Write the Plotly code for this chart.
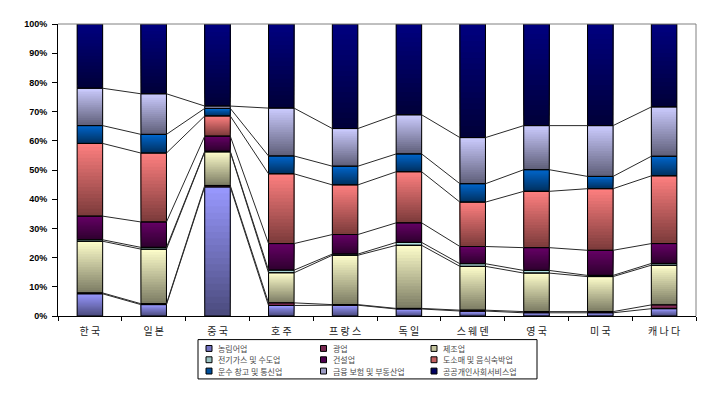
import plotly.graph_objects as go

# ---------------- data ----------------
countries = ["한 국", "일 본", "중 국", "호 주", "프 랑 스", "독 일", "스 웨 덴", "영 국", "미 국", "캐 나 다"]
sectors = ["농림어업", "광업", "제조업", "전기가스 및 수도업", "건설업",
           "도소매 및 음식숙박업", "운수 창고 및 통신업", "금융 보험 및 부동산업", "공공개인사회서비스업"]

agri          = [7.6, 3.9, 44.2, 3.6, 3.7, 2.4, 1.7, 1.1, 1.1, 2.5]
mining        = [0.3, 0.3, 0.5, 0.9, 0.2, 0.2, 0.3, 0.4, 0.4, 1.3]
manufacturing = [17.7, 18.7, 11.5, 10.3, 16.9, 21.6, 15.0, 13.2, 12.0, 13.6]
utilities     = [0.5, 0.6, 0.2, 0.9, 0.4, 1.0, 0.9, 0.9, 0.4, 0.6]
construction  = [8.1, 8.7, 5.2, 9.1, 6.7, 6.7, 5.9, 7.8, 8.6, 6.8]
trade_hotel   = [24.9, 23.6, 6.9, 23.9, 17.0, 17.5, 15.2, 19.3, 21.1, 23.2]
transport     = [6.1, 6.4, 2.6, 6.1, 6.4, 6.1, 6.3, 7.4, 4.2, 6.7]
finance       = [12.8, 13.9, 0.8, 16.4, 12.9, 13.4, 15.8, 15.1, 17.4, 16.9]
public_serv   = [22.0, 23.9, 28.1, 28.8, 35.8, 31.1, 38.9, 34.8, 34.8, 28.4]

series = [agri, mining, manufacturing, utilities, construction,
          trade_hotel, transport, finance, public_serv]

yticks = list(range(0, 101, 10))

# gradient colours (top colour, bottom colour)
top_colors = ["#9999FF", "#993366", "#FFFFCC", "#CCFFFF", "#660066",
              "#FF8080", "#0066CC", "#CCCCFF", "#000080"]
bot_colors = ["#4A4A7C", "#4D1A33", "#7A7A62", "#5E7878", "#2E002E",
              "#7A3A3A", "#00305E", "#5E5E78", "#000038"]


def hex2rgb(h):
    h = h.lstrip("#")
    return tuple(int(h[i:i + 2], 16) for i in (0, 2, 4))


def mix(c1, c2, t):
    a, b = hex2rgb(c1), hex2rgb(c2)
    return "rgb(%d,%d,%d)" % tuple(round(a[i] + (b[i] - a[i]) * t) for i in range(3))


n = len(countries)
xs = list(range(n))
BAR_W = 0.4
N_SLICES = 20

# cumulative bases
bases = []
run = [0.0] * n
for s in series:
    bases.append(run[:])
    run = [run[i] + s[i] for i in range(n)]

fig = go.Figure()

# gradient: progressively shorter bars, each reaching the segment top
for si, s in enumerate(series):
    for k in range(N_SLICES):
        t = (k + 0.5) / N_SLICES
        col = mix(bot_colors[si], top_colors[si], t)
        fig.add_trace(go.Bar(
            x=xs,
            y=[v * (N_SLICES - k) / N_SLICES for v in s],
            base=[bases[si][i] + s[i] * k / N_SLICES for i in range(n)],
            width=BAR_W,
            marker=dict(color=col, line=dict(width=0)),
            showlegend=False, hoverinfo="skip",
        ))

# outlines of each segment
for si, s in enumerate(series):
    fig.add_trace(go.Bar(
        x=xs, y=s, base=bases[si], width=BAR_W, name=sectors[si],
        marker=dict(color="rgba(0,0,0,0)", line=dict(color="black", width=1)),
        showlegend=False,
    ))

# series connector lines
lx, ly = [], []
for si in range(len(series) - 1):
    tops = [bases[si][i] + series[si][i] for i in range(n)]
    for i in range(n - 1):
        lx += [xs[i] + BAR_W / 2, xs[i + 1] - BAR_W / 2, None]
        ly += [tops[i], tops[i + 1], None]
fig.add_trace(go.Scatter(x=lx, y=ly, mode="lines",
                         line=dict(color="#2a2a2a", width=1),
                         showlegend=False, hoverinfo="skip"))

# ---------------- layout ----------------
OFF = 8                      # default page body margin
W, H = 717 - OFF, 403 - OFF
ML, MR, MT, MB = 58 - OFF, 21, 19 - OFF, 87
PW, PH = W - ML - MR, H - MT - MB


def px_x(p):                 # page pixel -> paper x
    return (p - OFF - ML) / PW


def px_y(p):                 # page pixel -> paper y
    return (H - MB - (p - OFF)) / PH


shapes = [
    dict(type="line", xref="paper", yref="paper", x0=0, x1=1, y0=1, y1=1,
         line=dict(color="#808080", width=1)),
    dict(type="line", xref="paper", yref="paper", x0=1, x1=1, y0=0, y1=1,
         line=dict(color="#808080", width=1)),
    # legend box
    dict(type="rect", xref="paper", yref="paper",
         x0=px_x(198), x1=px_x(537), y0=px_y(340), y1=px_y(380),
         line=dict(color="black", width=1), fillcolor="white"),
]
annotations = []
col_x = [206, 320.5, 431]
row_y = [349, 360.5, 372]
for idx, name in enumerate(sectors):
    r, c = divmod(idx, 3)
    sx, sy = col_x[c], row_y[r]
    shapes.append(dict(type="rect", xref="paper", yref="paper",
                       x0=px_x(sx), x1=px_x(sx + 6), y0=px_y(sy - 3), y1=px_y(sy + 3),
                       line=dict(color="black", width=1),
                       fillcolor=mix(bot_colors[idx], top_colors[idx], 0.55)))
    annotations.append(dict(text=name, xref="paper", yref="paper",
                            x=px_x(sx + 10), y=px_y(sy), xanchor="left", yanchor="middle",
                            showarrow=False,
                            font=dict(family="Noto Sans CJK KR", size=8, color="#4a4a4a")))

fig.update_layout(
    width=W, height=H,
    margin=dict(l=ML, r=MR, t=MT, b=MB),
    barmode="overlay",
    plot_bgcolor="white", paper_bgcolor="white",
    shapes=shapes, annotations=annotations,
    showlegend=False,
    xaxis=dict(range=[-0.5, n - 0.5], tickmode="array", tickvals=xs, ticktext=countries,
               ticks="", showline=True, linecolor="black", linewidth=1,
               showgrid=False, zeroline=False, ticklabelstandoff=6,
               tickfont=dict(family="Noto Sans CJK KR", size=10, color="#222222"),
               minor=dict(tickmode="array", tickvals=[i - 0.5 for i in range(n + 1)],
                          ticks="outside", ticklen=4, tickcolor="black", tickwidth=1,
                          showgrid=False)),
    yaxis=dict(range=[0, 100], tickmode="array", tickvals=yticks,
               ticktext=["%d%%" % v for v in yticks],
               ticks="outside", ticklen=5, tickcolor="black",
               showline=True, linecolor="black", linewidth=1,
               showgrid=False, zeroline=False, ticklabelstandoff=3,
               tickfont=dict(family="Liberation Sans", size=9, color="black", weight="bold")),
)

fig.write_html("out.html")
